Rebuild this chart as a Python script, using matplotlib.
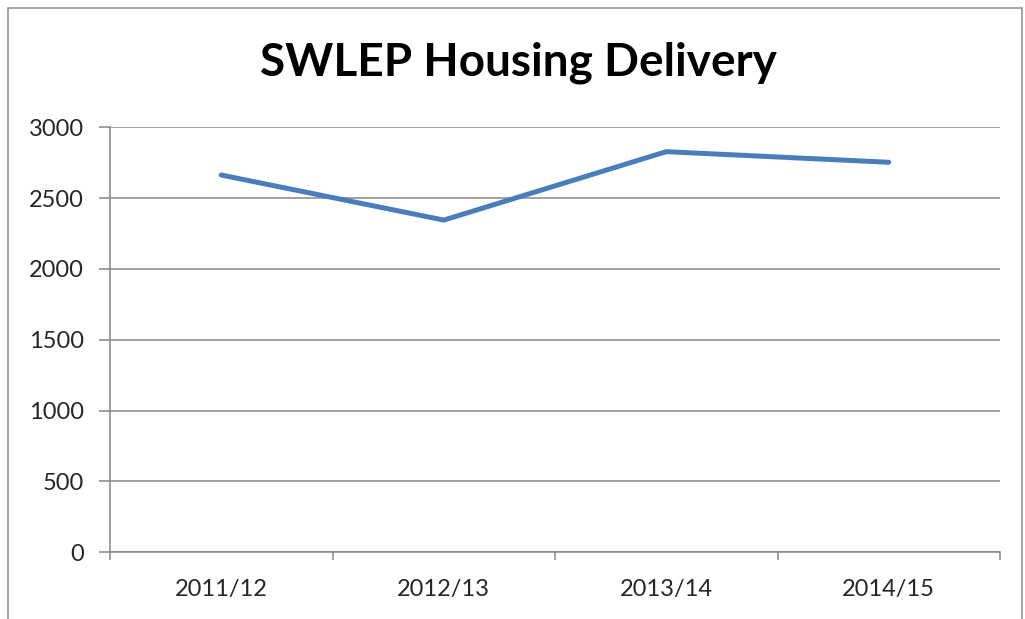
import matplotlib.pyplot as plt
from matplotlib.patches import Rectangle

# data
years = ['2011/12', '2012/13', '2013/14', '2014/15']
delivery = [2663, 2345, 2828, 2753]
y_ticks = [0, 500, 1000, 1500, 2000, 2500, 3000]

plt.rcParams['font.family'] = ['Lato', 'DejaVu Sans']

fig = plt.figure(figsize=(10.25, 6.19), dpi=100)
W, H = 1025, 619

# outer chart frame
fig.patches.append(Rectangle((8 / W, -0.05), 1014 / W, 1.05 - 8 / H,
                             transform=fig.transFigure, fill=False,
                             edgecolor='#8c8c8c', linewidth=1.1))

ax = fig.add_axes([110 / W, (H - 552.3) / H, 890 / W, 425 / H])

x = list(range(len(years)))
ax.plot(x, delivery, color='#4A7EBB', linewidth=3.6, solid_capstyle='round',
        solid_joinstyle='round', zorder=3)

ax.set_xlim(-0.5, len(years) - 0.5)
ax.set_ylim(0, 3000)
ax.set_yticks(y_ticks)
ax.set_xticks(x)
ax.set_xticklabels(years)
ax.set_xticks([i - 0.5 for i in range(len(years) + 1)], minor=True)

grey = '#868686'
ax.grid(axis='y', color=grey, linewidth=1.1)
ax.set_axisbelow(True)
for s in ['top', 'right']:
    ax.spines[s].set_visible(False)
for s in ['left', 'bottom']:
    ax.spines[s].set_color(grey)
    ax.spines[s].set_linewidth(1.1)

ax.tick_params(axis='y', length=8, width=1.1, color=grey, pad=11,
               labelsize=17, labelcolor='#262626')
ax.tick_params(axis='x', which='major', length=0, pad=19,
               labelsize=17, labelcolor='#262626')
ax.tick_params(axis='x', which='minor', length=6, width=1.1, color=grey)

fig.text(518 / W, 1 - 63 / H, 'SWLEP Housing Delivery', ha='center', va='center',
         fontsize=33, fontweight='bold', color='black')

fig.savefig('out.png', dpi=100)
